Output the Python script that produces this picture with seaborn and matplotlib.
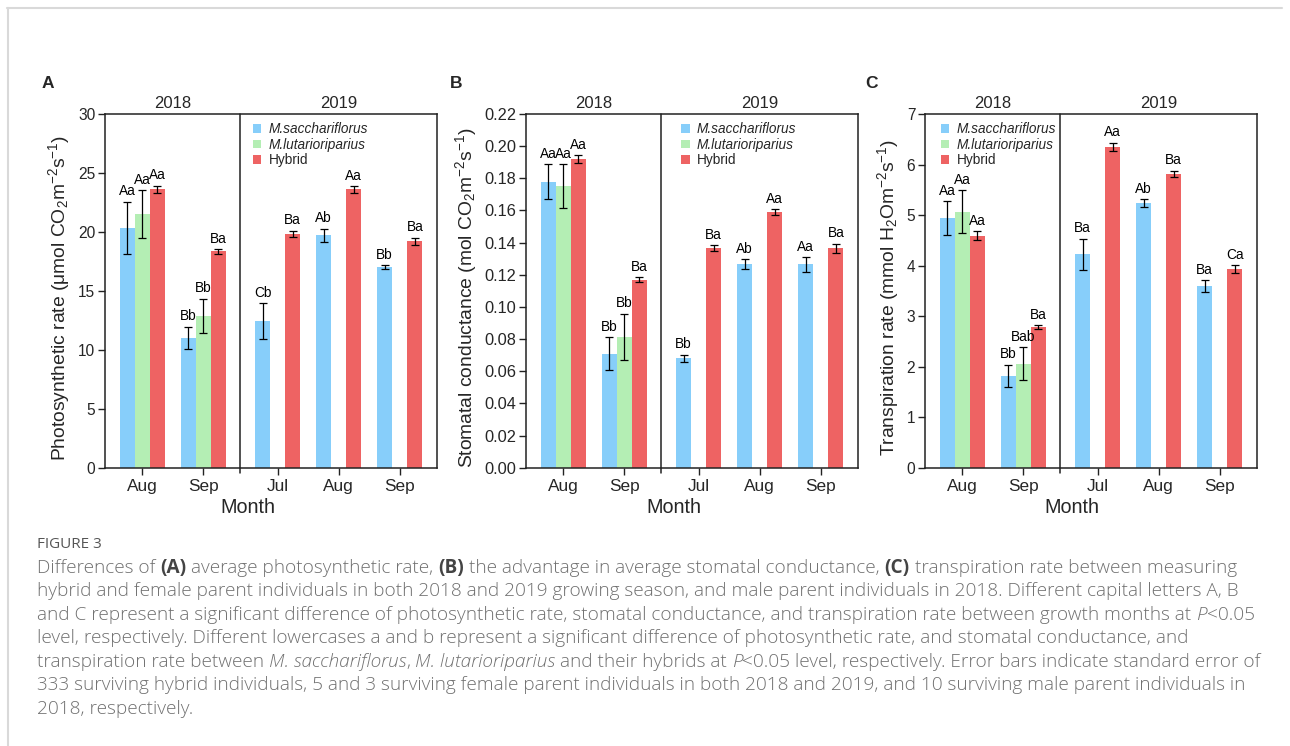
import matplotlib
matplotlib.use("Agg")
import numpy as np
import pandas as pd
import matplotlib.pyplot as plt
from matplotlib.patches import Patch
from matplotlib.lines import Line2D
from matplotlib import font_manager
import seaborn as sns

sns.set_theme(style="white")
plt.rcParams["font.family"] = ["Liberation Sans", "DejaVu Sans"]
plt.rcParams["mathtext.fontset"] = "custom"
plt.rcParams["mathtext.rm"] = "Liberation Sans"
plt.rcParams["mathtext.it"] = "Liberation Sans:italic"
plt.rcParams["mathtext.bf"] = "Liberation Sans:bold"

# ---------------------------------------------------------------- data
years = ["2018", "2018", "2019", "2019", "2019"]
months = ["Aug", "Sep", "Jul", "Aug", "Sep"]
species = ["M.sacchariflorus", "M.lutarioriparius", "Hybrid"]
colors = ["#87CEFA", "#B4EEB4", "#EE6363"]

# Photosynthetic rate (umol CO2 m-2 s-1); None = not measured
photo_sac = [20.35, 11.0, 12.45, 19.7, 17.0]
photo_sac_se = [2.2, 0.95, 1.5, 0.55, 0.18]
photo_lut = [21.5, 12.9, None, None, None]
photo_lut_se = [2.05, 1.45, None, None, None]
photo_hyb = [23.6, 18.35, 19.85, 23.6, 19.2]
photo_hyb_se = [0.3, 0.2, 0.25, 0.28, 0.3]
photo_sac_lab = ["Aa", "Bb", "Cb", "Ab", "Bb"]
photo_lut_lab = ["Aa", "Bb", None, None, None]
photo_hyb_lab = ["Aa", "Ba", "Ba", "Aa", "Ba"]

# Stomatal conductance (mol CO2 m-2 s-1)
cond_sac = [0.178, 0.071, 0.068, 0.1265, 0.1265]
cond_sac_se = [0.0108, 0.010, 0.0023, 0.003, 0.0045]
cond_lut = [0.175, 0.0815, None, None, None]
cond_lut_se = [0.0137, 0.0143, None, None, None]
cond_hyb = [0.192, 0.117, 0.1365, 0.159, 0.1365]
cond_hyb_se = [0.0025, 0.0015, 0.0018, 0.0019, 0.0028]
cond_sac_lab = ["Aa", "Bb", "Bb", "Ab", "Aa"]
cond_lut_lab = ["Aa", "Bb", None, None, None]
cond_hyb_lab = ["Aa", "Ba", "Ba", "Aa", "Ba"]

# Transpiration rate (mmol H2O m-2 s-1)
trans_sac = [4.94, 1.82, 4.22, 5.24, 3.6]
trans_sac_se = [0.33, 0.22, 0.31, 0.075, 0.115]
trans_lut = [5.07, 2.06, None, None, None]
trans_lut_se = [0.42, 0.32, None, None, None]
trans_hyb = [4.59, 2.78, 6.35, 5.81, 3.93]
trans_hyb_se = [0.086, 0.04, 0.08, 0.063, 0.08]
trans_sac_lab = ["Aa", "Bb", "Ba", "Ab", "Ba"]
trans_lut_lab = ["Aa", "Bab", None, None, None]
trans_hyb_lab = ["Aa", "Ba", "Aa", "Ba", "Ca"]

# ---------------------------------------------------------------- layout
W, H = 1290, 746
YEAR_GAP = 0.22
pos = [i + (YEAR_GAP if y == "2019" else 0.0) for i, y in enumerate(years)]
split = (pos[1] + pos[2]) / 2
XLIM = (-0.61, pos[-1] + 0.61)


def frame(values, errs, labels):
    rows = []
    for sp, v, e, l in zip(species, values, errs, labels):
        for i in range(len(months)):
            if v[i] is None:
                continue
            rows.append(dict(pos=pos[i], species=sp, value=v[i], se=e[i], label=l[i]))
    return pd.DataFrame(rows)


panels = [
    dict(letter="A", left=105, letter_x=42, xlab=0.43, tick_fs=11.2,
         df=frame([photo_sac, photo_lut, photo_hyb],
                  [photo_sac_se, photo_lut_se, photo_hyb_se],
                  [photo_sac_lab, photo_lut_lab, photo_hyb_lab]),
         ylim=(0, 30), yticks=np.arange(0, 31, 5), fmt="{:.0f}",
         ylabel="Photosynthetic rate (μmol CO$_2$m$^{-2}$s$^{-1}$)",
         leg=(0.445, 0.976)),
    dict(letter="B", left=526, letter_x=450, xlab=0.444, tick_fs=11.8,
         df=frame([cond_sac, cond_lut, cond_hyb],
                  [cond_sac_se, cond_lut_se, cond_hyb_se],
                  [cond_sac_lab, cond_lut_lab, cond_hyb_lab]),
         ylim=(0, 0.22), yticks=np.linspace(0, 0.22, 12), fmt="{:.2f}",
         ylabel="Stomatal conductance (mol CO$_2$m$^{-2}$s$^{-1}$)",
         leg=(0.468, 0.976)),
    dict(letter="C", left=925, letter_x=865, xlab=0.443, tick_fs=11.2,
         df=frame([trans_sac, trans_lut, trans_hyb],
                  [trans_sac_se, trans_lut_se, trans_hyb_se],
                  [trans_sac_lab, trans_lut_lab, trans_hyb_lab]),
         ylim=(0, 7), yticks=np.arange(0, 8, 1), fmt="{:.0f}",
         ylabel="Transpiration rate (mmol H$_2$Om$^{-2}$s$^{-1}$)",
         leg=(0.048, 0.976)),
]

fig = plt.figure(figsize=(W / 100, H / 100), dpi=100)
fig.patch.set_facecolor("white")

AX_W, AX_TOP, AX_BOT = 332, 114, 467.7
spine_c = "#222222"

for p in panels:
    ax = fig.add_axes([p["left"] / W, 1 - AX_BOT / H, AX_W / W, (AX_BOT - AX_TOP) / H])
    df = p["df"]
    sns.barplot(data=df, x="pos", y="value", hue="species", hue_order=species,
                palette=colors, native_scale=True, width=0.74, saturation=1,
                errorbar=None, legend=False, linewidth=0, ax=ax)

    # error bars and significance letters on top of each bar
    for patch in ax.patches:
        h = patch.get_height()
        if not np.isfinite(h):
            continue
        cx = patch.get_x() + patch.get_width() / 2
        cand = df[np.isclose(df["value"], h)]
        row = cand.iloc[(cand["pos"] - cx).abs().argmin()]
        ax.errorbar(cx, h, yerr=row["se"], fmt="none", ecolor="black",
                    elinewidth=0.9, capsize=3.2, capthick=0.9, zorder=3)
        ax.annotate(row["label"], (cx, h + row["se"]), xytext=(0, 2.5),
                    textcoords="offset points", ha="center", va="bottom",
                    fontsize=9.8, color="black")

    ax.set_xlim(*XLIM)
    ax.set_ylim(*p["ylim"])
    ax.set_xticks(pos, months, fontsize=12.4)
    ax.set_yticks(p["yticks"], [p["fmt"].format(v) for v in p["yticks"]],
                  fontsize=p["tick_fs"])
    ax.tick_params(axis="both", direction="out", length=5, width=1.0, color=spine_c,
                   left=True, bottom=True, pad=2)
    ax.tick_params(axis="x", pad=3)
    for s in ax.spines.values():
        s.set_color(spine_c)
        s.set_linewidth(1.1)
    ax.set_xlabel("Month", fontsize=14.2, labelpad=0)
    ax.xaxis.set_label_coords(p["xlab"], -0.085)
    ax.xaxis.label.set_va("top")
    ax.set_ylabel(p["ylabel"], fontsize=13.9, labelpad=4)
    ax.yaxis.label.set_y(0.48)

    # year divider, running a little below the axis like a tick
    ax.axvline(split, ymin=-0.016, ymax=1, color=spine_c, lw=1.1, clip_on=False)
    ax.text((XLIM[0] + split) / 2, p["ylim"][1] * 1.008, "2018", ha="center",
            va="bottom", fontsize=12)
    ax.text((split + XLIM[1]) / 2, p["ylim"][1] * 1.008, "2019", ha="center",
            va="bottom", fontsize=12)

    handles = [Patch(facecolor=c, edgecolor="none") for c in colors]
    leg = ax.legend(handles, species, loc="upper left", bbox_to_anchor=p["leg"],
                    frameon=False, fontsize=9.8, handlelength=0.6, handleheight=0.6,
                    handletextpad=0.55, labelspacing=0.1, borderaxespad=0, borderpad=0)
    for t in leg.get_texts()[:2]:
        t.set_fontstyle("italic")

    fig.text(p["letter_x"] / W, 1 - 83 / H, p["letter"], fontsize=12.5,
             fontweight="bold", ha="left", va="center")

# page frame
fig.add_artist(Line2D([7 / W, 1282 / W], [1 - 7.5 / H] * 2, color="#d9d9d9", lw=1.5))
fig.add_artist(Line2D([7.5 / W] * 2, [0, 1 - 7.5 / H], color="#d9d9d9", lw=1.5))

# ---------------------------------------------------------------- caption
CAP_FONT = ["Open Sans", "DejaVu Sans"]
CAP_WEIGHT = "light"
CAP_COLOR = "#707070"
CAP_LEFT, CAP_RIGHT = 37, 1238
renderer = fig.canvas.get_renderer()

caption = [
    [("Differences of ", ""), ("(A)", "b"), (" average photosynthetic rate, ", ""), ("(B)", "b"),
     (" the advantage in average stomatal conductance, ", ""), ("(C)", "b"),
     (" transpiration rate between measuring", "")],
    [("hybrid and female parent individuals in both 2018 and 2019 growing season, and male parent "
      "individuals in 2018. Different capital letters A, B", "")],
    [("and C represent a significant difference of photosynthetic rate, stomatal conductance, and "
      "transpiration rate between growth months at ", ""), ("P", "i"), ("<0.05", "")],
    [("level, respectively. Different lowercases a and b represent a significant difference of "
      "photosynthetic rate, and stomatal conductance, and", "")],
    [("transpiration rate between ", ""), ("M. sacchariflorus", "i"), (", ", ""),
     ("M. lutarioriparius", "i"), (" and their hybrids at ", ""), ("P", "i"),
     ("<0.05 level, respectively. Error bars indicate standard error of", "")],
    [("333 surviving hybrid individuals, 5 and 3 surviving female parent individuals in both 2018 "
      "and 2019, and 10 surviving male parent individuals in", "")],
    [("2018, respectively.", "")],
]


def style_kw(style):
    if style == "b":
        return dict(fontweight="bold"), "#444444"
    if style == "i":
        return dict(fontstyle="italic", fontweight=CAP_WEIGHT), CAP_COLOR
    return dict(fontweight=CAP_WEIGHT), CAP_COLOR


def rich_line(x_px, y_px, pieces, size, draw=True):
    """Lay out mixed-style text pieces left to right; returns the end x in pixels."""
    def width(s, **kw):
        t = fig.text(0, 0, s, fontsize=size, family=CAP_FONT, **kw)
        w = t.get_window_extent(renderer).width
        t.remove()
        return w

    base_kw, _ = style_kw("")
    space_w = width("x x", **base_kw) - width("xx", **base_kw)
    x = x_px
    for txt, style in pieces:
        kw, color = style_kw(style)
        lead = len(txt) - len(txt.lstrip(" "))
        trail = len(txt) - len(txt.rstrip(" "))
        core = txt.strip(" ")
        x += lead * space_w
        if core:
            if draw:
                t = fig.text(x / W, 1 - y_px / H, core, fontsize=size, family=CAP_FONT,
                             color=color, ha="left", va="center", **kw)
                x += t.get_window_extent(renderer).width
            else:
                x += width(core, **kw)
        x += trail * space_w
    return x


# size the caption so the first line fills the text column
base = 10.0
cap_size = base * (CAP_RIGHT - CAP_LEFT) / (rich_line(CAP_LEFT, 0, caption[0], base, False) - CAP_LEFT)

fig.text(CAP_LEFT / W, 1 - 544 / H, "FIGURE 3", fontsize=11.0, family=CAP_FONT,
         color="#555555", ha="left", va="center")

line_y = [568, 591.5, 614.8, 638.2, 661.6, 685.2, 708.6]
for y, pieces in zip(line_y, caption):
    rich_line(CAP_LEFT, y, pieces, cap_size)

fig.savefig("out.png", dpi=100, facecolor="white")
